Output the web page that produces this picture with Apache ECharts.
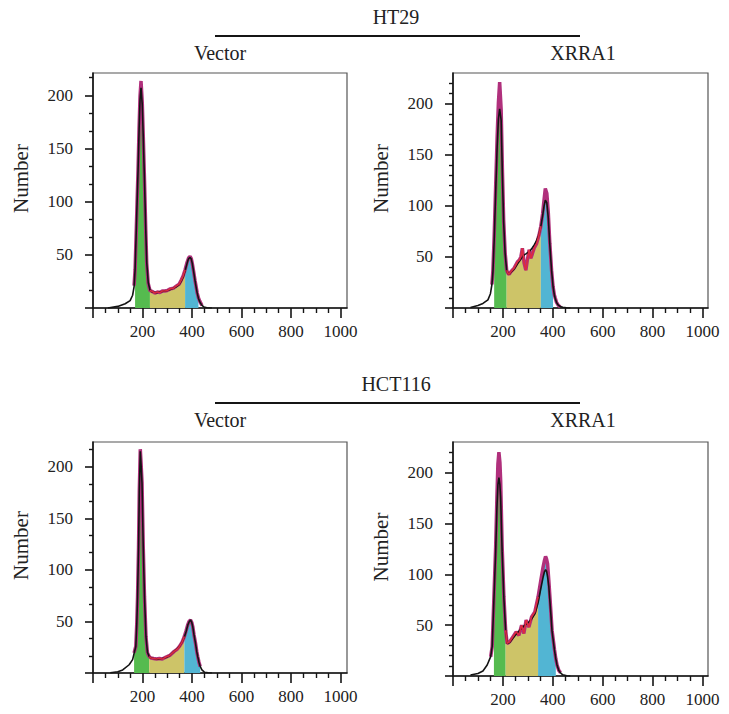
<!DOCTYPE html>
<html><head><meta charset="utf-8">
<script src="https://cdn.jsdelivr.net/npm/echarts@6/dist/echarts.min.js"></script>
<style>html,body{margin:0;padding:0;background:#fff}#c{width:729px;height:714px}</style>
</head><body><div id="c"></div>
<script>
// ---- Data (DNA content channel vs cell number) ----
// Panel 1: HT29 Vector
const X1 = [60,100,130,150,160,166,170,174,178,182,186,190,194,199,203,208,213,217,223,230,240,250,260,270,280,290,300,312,324,336,348,356,364,372,380,386,392,397,401,406,412,417,421,426,432,440,448,460,480];
const DATA1 = [null,null,null,null,null,21,36,67,99,130,168,199,213.5,193,162,120,74,42,23,16.5,15.5,14,15,14.5,16,16,16.5,18,18.5,20.5,22.5,26,30,36,43,47,48.5,46.5,42,35,26,19.5,14,9.5,6,2.5,null,null,null];
const FIT1 = [0,1.5,4,7,12,20,36,66,98,129,166,196,207,191,161,120,74,43,24,17,15,14.5,14.5,15,15.5,16,16.5,17.5,18.5,20,22,25,29,35,42,46.5,47.5,46,42,35,26,19,14,9,5.5,2.5,1,0.3,0];
const GATES1 = {g1:[170,230], s:[230,372], g2:[372,426]};

// Panel 2: HT29 XRRA1
const X2 = [70,100,120,140,150,156,160,165,171,177,182,187,193,198,203,209,215,220,225,232,245,258,266,272,278,285,292,298,305,312,318,325,335,345,352,359,365,370,376,382,388,395,401,406,410,415,421,430,440,455,470];
const DATA2 = [null,null,null,null,null,23,37,70,119,168,201,221,194,135,86,54,37,34,33,35.5,39,45,47,50,58.5,44,37,47,57,48.7,53,58.5,63,71.6,80,92,106,117,112.4,93,63.4,37,21,13,9.5,5.5,3,1,null,null,null];
const FIT2 = [0.5,2.5,4.5,8,14,23,35,66,113,158,185,195,184,130,84,53,37,34,33,35,38,43,46,48,50,52,53,54,55,57,59,61.5,66,72,80,90,100,105.5,103,88,62,37,21,13,9,5.5,3,1.5,0.7,0.2,0];
const GATES2 = {g1:[165,215], s:[215,352], g2:[352,401]};

// Panel 3: HCT116 Vector
const X3 = [70,100,120,146,160,166,173,177,180,184,187,191,194,198,203,208,214,220,227,234,245,257,268,280,295,310,328,340,350,360,369,376,383,388,394,399,403,408,414,419,423,428,433,440,450,465,480];
const DATA3 = [null,null,null,null,null,19.5,26,49,74,122,176,217,204,185,122,74,35.4,19.5,16,14.5,14,13.5,14,13.5,15.5,17,21,23,26,30,35.4,41,47,50,51.5,49,45,37,29,21,16,10.5,6.4,null,null,null,null];
const FIT3 = [0.3,1.2,3,8,13,19,25.7,48,74,122,175,215,203,184,122,74,35,20,16,14.5,14,13.5,13.5,14,15,17,21,23.5,26,30,35,40,46.5,49.5,51.5,49,45,37,29,21,16,10.5,6.4,3,0.8,0.2,0];
const GATES3 = {g1:[166,227], s:[227,369], g2:[369,433]};

// Panel 4: HCT116 XRRA1
const X4 = [70,100,120,137,151,157,164,171,176,180,184,188,191,197,204,211,217,227,240,253,264,275,284,293,304,315,328,341,352,361,366,371,375,379,384,391,397,407,412,417,424,431,440,456,470];
const DATA4 = [null,null,null,null,19,28.7,77.7,127,176,208.5,220,210,192,127,77.7,45,32,33.6,38.5,43.4,40,50,41.8,55,48,58,63,77.7,94,107,113,117.6,115,110.5,94,68,45,25.5,17,10.8,5.5,3.3,null,null,null];
const FIT4 = [1,2.5,5,10.8,19,29,75,122,165,188,195,188,175,122,76,45,32,33,37,41,44,47,49,51,53,56,61,72,86,97,102,104.5,103,98,88,65,44,25,17,10.8,5.5,3,1.2,0.2,0];
const GATES4 = {g1:[164,211], s:[211,341], g2:[341,412]};

// Axes ticks
const X_TICKS = [0,200,400,600,800,1000];
const Y_TICKS = [0,50,100,150,200];
const Y_MAX = [221,230,224,230];
const X_MAX = [1026,1022,1026,1022];
const Y_MINOR = [3,5,3,5];
const Y_NAME = 'Number';
const GROUPS = ['HT29','HCT116'];
const CONDITIONS = ['Vector','XRRA1'];

// ---- Layout ----
const grids = [
  {left:93, top:73, width:254, height:235},
  {left:453, top:73, width:255, height:235},
  {left:93, top:442, width:254, height:231},
  {left:453, top:442, width:255, height:234}
];
const panels = [
  {x:X1, d:DATA1, f:FIT1, g:GATES1},
  {x:X2, d:DATA2, f:FIT2, g:GATES2},
  {x:X3, d:DATA3, f:FIT3, g:GATES3},
  {x:X4, d:DATA4, f:FIT4, g:GATES4}
];
const SERIF = 'Liberation Serif';
const INK = '#151515';

function pairs(xs, ys, lo, hi){
  const out = [];
  for (let i=0;i<xs.length;i++){
    if (ys[i]===null) continue;
    if (lo!==undefined && (xs[i]<lo || xs[i]>hi)) continue;
    out.push([xs[i], ys[i]]);
  }
  return out;
}
const richFmt = v => '{s|' + v + '}';
const richStyle = {s:{fontFamily:SERIF, fontSize:17, color:'#222'}};

const xAxes = [], yAxes = [], series = [];
panels.forEach((p,i)=>{
  xAxes.push({
    gridIndex:i, type:'value', min:0, max:X_MAX[i], interval:200,
    axisLine:{show:true, onZero:false, lineStyle:{color:INK, width:1.6}},
    axisTick:{show:true, customValues:X_TICKS, length:10, lineStyle:{color:INK, width:1.6}},
    minorTick:{show:true, splitNumber:4, length:5, lineStyle:{color:INK, width:1.4}},
    axisLabel:{show:true, showMinLabel:false, showMaxLabel:false, margin:15, formatter:richFmt, rich:richStyle,
      fontFamily:SERIF, fontSize:17, color:'#222'},
    splitLine:{show:false}
  });
  yAxes.push({
    gridIndex:i, type:'value', min:0, max:Y_MAX[i], interval:50,
    name:Y_NAME, nameLocation:'middle', nameGap:62,
    nameTextStyle:{fontFamily:SERIF, fontSize:21, color:'#222', padding:[0,0,0,24]},
    axisLine:{show:true, onZero:false, lineStyle:{color:INK, width:1.6}},
    axisTick:{show:true, customValues:Y_TICKS, length:8, lineStyle:{color:INK, width:1.6}},
    minorTick:{show:true, splitNumber:Y_MINOR[i], length:4, lineStyle:{color:INK, width:1.4}},
    axisLabel:{show:true, showMinLabel:false, showMaxLabel:false, margin:20, formatter:richFmt, rich:richStyle,
      fontFamily:SERIF, fontSize:17, color:'#222'},
    splitLine:{show:false}
  });
  const common = {type:'line', xAxisIndex:i, yAxisIndex:i, showSymbol:false, symbol:'none', silent:true, animation:false};
  series.push(Object.assign({}, common, {name:'G1', data:pairs(p.x,p.d,p.g.g1[0],p.g.g1[1]), lineStyle:{width:0}, areaStyle:{color:'#55bb4f', opacity:1}}));
  series.push(Object.assign({}, common, {name:'S', data:pairs(p.x,p.d,p.g.s[0],p.g.s[1]), lineStyle:{width:0}, areaStyle:{color:'#cdc468', opacity:1}}));
  series.push(Object.assign({}, common, {name:'G2', data:pairs(p.x,p.d,p.g.g2[0],p.g.g2[1]), lineStyle:{width:0}, areaStyle:{color:'#52b5d3', opacity:1}}));
  series.push(Object.assign({}, common, {name:'Data', data:pairs(p.x,p.d), lineStyle:{width:3.5, color:'#b0307c'}}));
  series.push(Object.assign({}, common, {name:'Fit', data:pairs(p.x,p.f), lineStyle:{width:1.6, color:'#141414'}}));
  series.push(Object.assign({}, common, {name:'Data S', data:pairs(p.x,p.d,p.g.s[0],p.g.s[1]), lineStyle:{width:1.6, color:'#dd2a40'}}));
});

const textStyle = {fontFamily:SERIF, fontSize:20, fill:'#222', textAlign:'center', textVerticalAlign:'middle'};
const graphic = [];
[[17,36,53],[384,403,420]].forEach((ys,gi)=>{
  graphic.push({type:'text', x:396, y:ys[0], style:Object.assign({text:GROUPS[gi]}, textStyle)});
  graphic.push({type:'line', shape:{x1:215, y1:ys[1], x2:580, y2:ys[1]}, style:{stroke:INK, lineWidth:2}});
  graphic.push({type:'text', x:220, y:ys[2], style:Object.assign({text:CONDITIONS[0]}, textStyle)});
  graphic.push({type:'text', x:583, y:ys[2], style:Object.assign({text:CONDITIONS[1]}, textStyle)});
});

const chart = echarts.init(document.getElementById('c'), null, {renderer:'svg'});
chart.setOption({
  animation:false,
  backgroundColor:'#fff',
  textStyle:{fontFamily:SERIF},
  grid: grids.map(g=>Object.assign({show:true, borderColor:'#555', borderWidth:1.2, backgroundColor:'transparent', containLabel:false}, g)),
  xAxis:xAxes, yAxis:yAxes, series:series, graphic:graphic
});
</script></body></html>
